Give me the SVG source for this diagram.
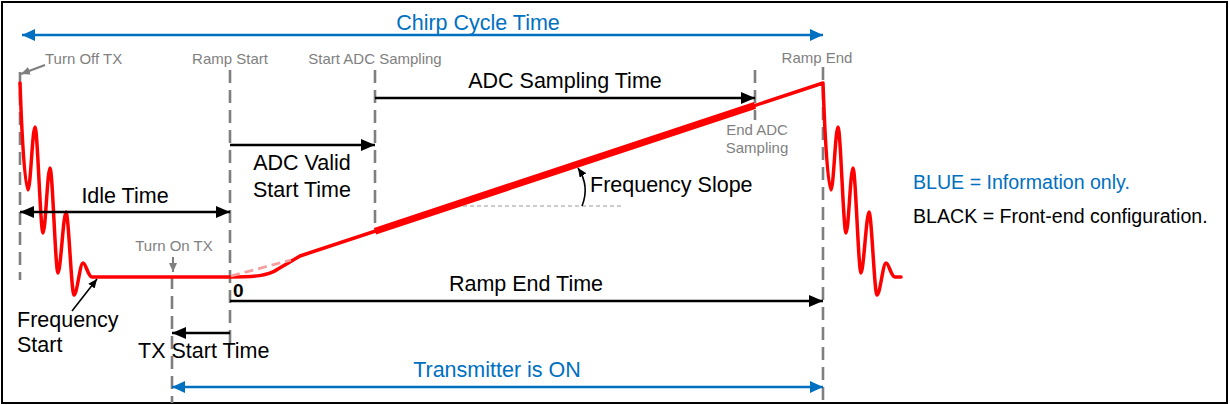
<svg xmlns="http://www.w3.org/2000/svg" width="1230" height="405" viewBox="0 0 1230 405">
<defs>
<style>
text{font-family:"Liberation Sans",Arial,sans-serif}
.lbl{font-size:21.5px;fill:#000}
.blue{font-size:21.5px;fill:#0070C0}
.gray{font-size:15px;fill:#7F7F7F}
.leg{font-size:19.6px}
.mid{text-anchor:middle}
.vd{stroke:#7F7F7F;stroke-width:2.6;stroke-dasharray:13 7;fill:none}
.ab{stroke:#000;stroke-width:2.5;fill:none}
.abl{stroke:#0070C0;stroke-width:2.5;fill:none}
.ag{stroke:#7F7F7F;stroke-width:2;fill:none}
.sig{stroke:#FF0000;stroke-width:3.5;fill:none;stroke-linejoin:round;stroke-linecap:round}
</style>
<marker id="hb" viewBox="0 0 14 12" refX="14" refY="6" markerWidth="14" markerHeight="12" markerUnits="userSpaceOnUse" orient="auto-start-reverse"><path d="M0,0 L14,6 L0,12 z" fill="#000"/></marker>
<marker id="hbl" viewBox="0 0 13 12" refX="13" refY="6" markerWidth="13" markerHeight="12" markerUnits="userSpaceOnUse" orient="auto-start-reverse"><path d="M0,0 L13,6 L0,12 z" fill="#0070C0"/></marker>
<marker id="hg" viewBox="0 0 9 8" refX="9" refY="4" markerWidth="9" markerHeight="8" markerUnits="userSpaceOnUse" orient="auto"><path d="M0,0 L9,4 L0,8 z" fill="#7F7F7F"/></marker>
<marker id="hs" viewBox="0 0 9 8" refX="9" refY="4" markerWidth="9" markerHeight="8" markerUnits="userSpaceOnUse" orient="auto"><path d="M0,0 L9,4 L0,8 z" fill="#000"/></marker>
</defs>
<rect x="2" y="2" width="1225" height="401" fill="#fff" stroke="#000" stroke-width="2"/>

<g id="guides">
<line class="vd" x1="20" y1="72" x2="20" y2="280"/>
<line class="vd" x1="230" y1="70" x2="230" y2="345"/>
<line class="vd" x1="375" y1="70" x2="375" y2="232"/>
<line class="vd" x1="172" y1="276" x2="172" y2="403"/>
<line class="vd" x1="755" y1="70" x2="755" y2="120"/>
<line class="vd" x1="823" y1="67" x2="823" y2="402"/>
<line x1="463" y1="206" x2="622" y2="206" stroke="#999" stroke-width="1.2" stroke-dasharray="4 3"/>
</g>

<g id="signal">
<path class="sig" d="M20,83 C22,140 25,190 28,190 C30.5,190 32.5,127 35,127 C37.5,127 40.5,233 43,233 C45.5,233 47.5,168 50,168 C52.5,168 55.5,273 58,273 C60.5,273 63.5,212 66,212 C68.5,212 71.5,295 74,295 C77,295 80,263 83,263 C86,263 88,277 92,277 L230,277 C255,277 268,276 278,269 L300,256 L823,83 C825,140 828,190 831,190 C833.5,190 835.5,127 838,127 C840.5,127 843.5,233 846,233 C848.5,233 850.5,168 853,168 C855.5,168 858.5,273 861,273 C863.5,273 866.5,212 869,212 C871.5,212 874.5,295 877,295 C880,295 883,263 886,263 C889,263 891,277 895,277 L901,277"/>
<line x1="375" y1="231.2" x2="755" y2="105.4" stroke="#FF0000" stroke-width="7"/>
<line x1="231" y1="276" x2="291" y2="260" stroke="#F4A0A0" stroke-width="2.8" stroke-dasharray="9 5"/>
</g>

<g id="connectors">
<line class="abl" x1="22" y1="35" x2="823" y2="35" marker-start="url(#hbl)" marker-end="url(#hbl)"/>
<line class="abl" x1="172" y1="387" x2="823" y2="387" marker-start="url(#hbl)" marker-end="url(#hbl)"/>
<line class="ab" x1="375" y1="98" x2="755" y2="98" marker-end="url(#hb)"/>
<line class="ab" x1="230" y1="145" x2="375" y2="145" marker-end="url(#hb)"/>
<line class="ab" x1="20" y1="212" x2="230" y2="212" marker-start="url(#hb)" marker-end="url(#hb)"/>
<line class="ab" x1="230" y1="301" x2="823" y2="301" marker-end="url(#hb)"/>
<line class="ab" x1="230" y1="333" x2="172" y2="333" marker-end="url(#hb)"/>
<line x1="72" y1="311" x2="97" y2="279" stroke="#000" stroke-width="1.6" marker-end="url(#hs)"/>
<path d="M582,206 Q590,186 578,168" stroke="#000" stroke-width="1.6" fill="none" marker-end="url(#hs)"/>
<line class="ag" x1="45" y1="65" x2="21" y2="74" marker-end="url(#hg)"/>
<line class="ag" x1="173" y1="257" x2="173" y2="272" marker-end="url(#hg)"/>
</g>

<g id="chirp-cycle-time"><text class="blue mid" x="478" y="30">Chirp Cycle Time</text></g>
<g id="turn-off-tx"><text class="gray" x="45" y="64">Turn Off TX</text></g>
<g id="ramp-start"><text class="gray mid" x="230" y="64">Ramp Start</text></g>
<g id="start-adc-sampling"><text class="gray mid" x="375" y="64">Start ADC Sampling</text></g>
<g id="ramp-end"><text class="gray mid" x="817" y="63">Ramp End</text></g>
<g id="end-adc-sampling"><text class="gray mid" x="757" y="135">End ADC</text><text class="gray mid" x="757" y="153">Sampling</text></g>
<g id="turn-on-tx"><text class="gray mid" x="174" y="251">Turn On TX</text></g>
<g id="adc-sampling-time"><text class="lbl mid" x="565" y="88">ADC Sampling Time</text></g>
<g id="adc-valid-start-time"><text class="lbl mid" x="302" y="170">ADC Valid</text><text class="lbl mid" x="302" y="197">Start Time</text></g>
<g id="idle-time"><text class="lbl mid" x="125" y="203">Idle Time</text></g>
<g id="frequency-slope"><text class="lbl" x="590" y="192">Frequency Slope</text></g>
<g id="zero"><text x="233" y="297" font-size="19" font-weight="bold">0</text></g>
<g id="ramp-end-time"><text class="lbl mid" x="526" y="291">Ramp End Time</text></g>
<g id="frequency-start"><text class="lbl" x="17" y="327">Frequency</text><text class="lbl" x="17" y="352">Start</text></g>
<g id="tx-start-time"><text class="lbl" x="138" y="358">TX Start Time</text></g>
<g id="transmitter-on"><text class="blue mid" x="497" y="377">Transmitter is ON</text></g>
<g id="legend">
<text class="leg" x="913" y="189" fill="#0070C0">BLUE = Information only.</text>
<text class="leg" x="913" y="223" fill="#000">BLACK = Front-end configuration.</text>
</g>
</svg>
